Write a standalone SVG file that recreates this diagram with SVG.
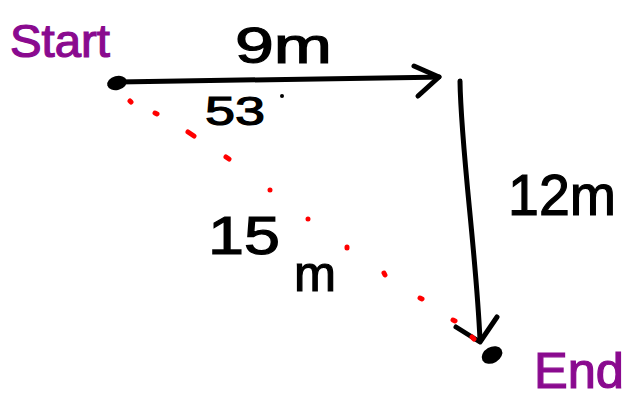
<svg xmlns="http://www.w3.org/2000/svg" width="633" height="402" viewBox="0 0 633 402">
<style>
.ink{fill:none;stroke:#000;stroke-width:5;stroke-linecap:round;stroke-linejoin:round}
.dot{fill:none;stroke:#ff0000;stroke-width:5;stroke-linecap:round}
.lbl{font-family:"Liberation Sans",Arial,sans-serif;fill:#000;stroke:#000;stroke-width:1.2}
.pur{font-family:"Liberation Sans",Arial,sans-serif;fill:#8a0a8f;stroke:#8a0a8f;stroke-width:1.2}
</style>
<rect width="633" height="402" fill="#fff"/>
<g id="connectors">
  <path class="ink" d="M118 82 C 200 81, 320 79, 439 77"/>
  <path class="ink" d="M414 66 L439 77 L418 96"/>
  <path class="ink" d="M460 81 C 461 150, 476 250, 480 340"/>
  <path class="ink" d="M456 327 L480 342 L497 317"/>
  <g id="hypotenuse">
    <path class="dot" d="M130 101 l1 1 M155 113 l2 1 M188 132 l6 4 M226 157 l3 2 M270 190 l0 0 M308 219 l0 0 M347 247 l0 1 M384 273 l1 2 M420 298 l2 1 M453 320 l2 1 M472 337 l2 2"/>
  </g>
</g>
<g id="start">
  <ellipse cx="117" cy="83" rx="10" ry="7" fill="#000" transform="rotate(-15 117 83)"/>
  <text class="pur" x="10" y="57" font-size="46" textLength="100" lengthAdjust="spacingAndGlyphs">Start</text>
</g>
<g id="end">
  <ellipse cx="492" cy="355" rx="11" ry="8" fill="#000" transform="rotate(-30 492 355)"/>
  <text class="pur" x="534" y="388" font-size="50" textLength="90" lengthAdjust="spacingAndGlyphs">End</text>
</g>
<g id="label-9m">
  <text class="lbl" x="235" y="63" font-size="50" textLength="97" lengthAdjust="spacingAndGlyphs">9m</text>
</g>
<g id="label-53">
  <text class="lbl" x="205" y="125" font-size="40" textLength="60" lengthAdjust="spacingAndGlyphs">53</text>
  <circle cx="282" cy="96" r="2" fill="#000"/>
</g>
<g id="label-12m">
  <text class="lbl" x="508" y="215" font-size="58" textLength="108" lengthAdjust="spacingAndGlyphs">12m</text>
</g>
<g id="label-15m">
  <text class="lbl" x="208" y="254" font-size="54" textLength="72" lengthAdjust="spacingAndGlyphs">15</text>
  <text class="lbl" x="294" y="291" font-size="50" textLength="42" lengthAdjust="spacingAndGlyphs">m</text>
</g>
</svg>
